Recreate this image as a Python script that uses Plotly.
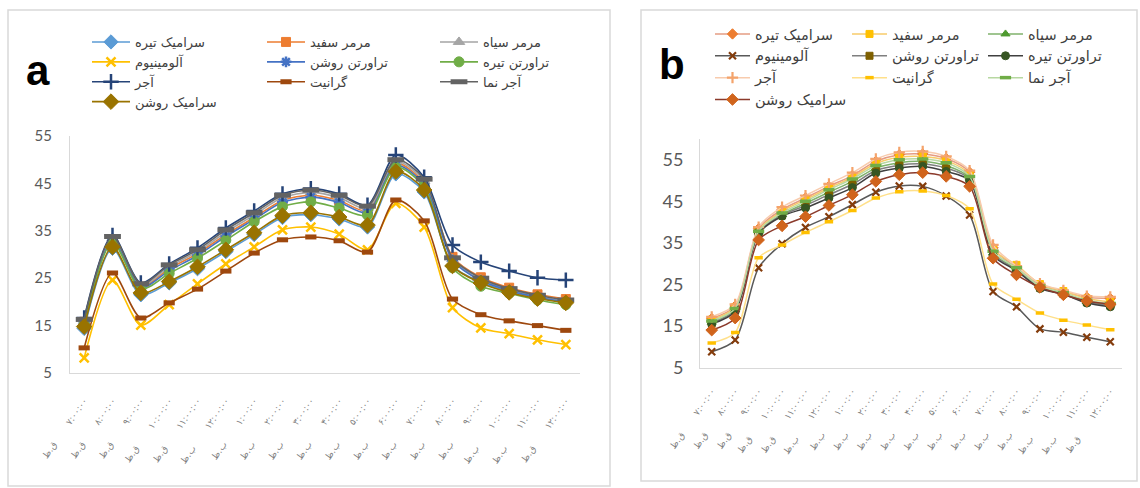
import plotly.graph_objects as go

W, H = 1140, 488

# ---- categories: hourly time stamps (Persian) ----
hour_text = ["۷:۰۰:۰۰", "۸:۰۰:۰۰", "۹:۰۰:۰۰", "۱۰:۰۰:۰۰", "۱۱:۰۰:۰۰", "۱۲:۰۰:۰۰",
             "۱:۰۰:۰۰", "۲:۰۰:۰۰", "۳:۰۰:۰۰", "۴:۰۰:۰۰", "۵:۰۰:۰۰", "۶:۰۰:۰۰",
             "۷:۰۰:۰۰", "۸:۰۰:۰۰", "۹:۰۰:۰۰", "۱۰:۰۰:۰۰", "۱۱:۰۰:۰۰", "۱۲:۰۰:۰۰"]
period_text = ["ق.ظ"] * 5 + ["ب.ظ"] * 12 + ["ق.ظ"]

series_names = ["سرامیک تیره", "مرمر سفید", "مرمر سیاه", "آلومینیوم", "تراورتن روشن",
                "تراورتن تیره", "آجر", "گرانیت", "آجر نما", "سرامیک روشن"]

# ---- panel a ----
a_ceramic_dark = [14.4, 31.3, 21.5, 24.0, 27.0, 30.6, 34.2, 37.8, 38.4, 37.5, 35.8, 47.0, 43.2, 27.6, 24.2, 22.2, 20.9, 20.0]
a_marble_white = [15.8, 33.2, 23.2, 27.0, 30.2, 34.2, 37.8, 41.4, 42.5, 41.4, 39.2, 49.2, 45.1, 29.5, 25.2, 23.0, 21.6, 20.6]
a_marble_black = [16.0, 33.5, 23.5, 27.4, 30.6, 34.7, 38.3, 42.0, 43.1, 42.0, 39.7, 49.6, 45.5, 29.0, 24.7, 22.6, 21.2, 20.2]
a_aluminium = [8.2, 24.6, 15.1, 19.4, 23.8, 28.0, 31.6, 35.2, 35.8, 34.3, 31.0, 40.8, 35.8, 18.8, 14.5, 13.3, 12.0, 11.0]
a_travertine_light = [15.5, 32.9, 23.0, 26.6, 29.8, 33.8, 37.4, 41.0, 42.1, 41.0, 38.8, 48.8, 44.7, 28.8, 24.5, 22.4, 21.0, 20.0]
a_travertine_dark = [15.3, 32.6, 22.7, 26.0, 29.2, 33.0, 36.9, 40.1, 41.1, 39.8, 38.3, 48.4, 44.3, 27.2, 23.3, 21.8, 20.4, 19.4]
a_brick = [16.6, 34.0, 24.0, 28.0, 31.4, 35.6, 39.2, 42.8, 43.9, 42.8, 40.4, 51.0, 46.3, 32.0, 28.4, 26.5, 25.1, 24.6]
a_granite = [10.3, 26.1, 16.6, 19.8, 22.7, 26.5, 30.3, 33.1, 33.7, 32.9, 30.5, 41.5, 37.1, 20.6, 17.3, 16.0, 15.0, 14.0]
a_facing_brick = [16.3, 33.8, 23.8, 27.8, 31.0, 35.2, 38.8, 42.5, 43.6, 42.5, 40.2, 50.0, 45.9, 29.3, 25.0, 22.8, 21.4, 20.4]
a_ceramic_light = [14.8, 31.6, 21.9, 24.3, 27.4, 31.0, 34.6, 38.2, 38.8, 37.9, 36.2, 47.5, 43.6, 27.6, 24.0, 22.0, 20.7, 19.8]

# ---- panel b ----
b_ceramic_dark = [16.8, 19.8, 38.4, 43.0, 45.8, 48.6, 51.2, 54.6, 56.2, 56.4, 55.3, 52.0, 33.8, 29.0, 24.9, 23.3, 21.9, 21.6]
b_marble_white = [16.5, 19.5, 38.0, 42.6, 45.4, 48.2, 50.8, 54.1, 55.6, 55.8, 54.8, 51.5, 33.4, 29.7, 25.1, 23.4, 21.6, 20.8]
b_marble_black = [15.9, 18.9, 37.6, 41.8, 44.5, 47.2, 49.8, 53.0, 54.3, 54.6, 53.6, 50.6, 32.6, 28.7, 24.4, 22.8, 20.9, 20.1]
b_aluminium = [8.8, 11.6, 29.0, 34.8, 38.7, 41.3, 44.2, 47.2, 48.7, 48.6, 46.3, 41.7, 23.3, 19.6, 14.3, 13.5, 12.3, 11.2]
b_travertine_light = [15.7, 18.7, 37.5, 41.6, 44.0, 46.6, 49.1, 52.4, 53.7, 54.0, 53.0, 50.3, 32.3, 28.5, 24.2, 22.7, 20.7, 19.9]
b_travertine_dark = [15.5, 18.5, 37.3, 41.4, 43.4, 45.8, 48.3, 51.8, 53.0, 53.4, 52.2, 50.0, 32.0, 28.3, 24.0, 22.6, 20.5, 19.6]
b_brick = [17.2, 20.2, 38.8, 43.6, 46.4, 49.2, 51.9, 55.2, 56.8, 57.0, 55.8, 52.4, 34.5, 29.4, 25.2, 23.6, 22.2, 22.0]
b_granite = [10.9, 13.4, 31.4, 34.5, 37.5, 40.1, 42.8, 45.8, 47.3, 47.5, 46.4, 43.2, 25.1, 21.4, 18.1, 16.4, 15.2, 14.1]
b_facing_brick = [16.2, 19.2, 37.8, 42.2, 45.0, 47.8, 50.4, 53.6, 55.0, 55.2, 54.3, 51.0, 33.0, 29.0, 24.6, 23.0, 21.2, 20.4]
b_ceramic_light = [14.0, 16.9, 35.7, 39.1, 41.3, 44.0, 46.6, 49.8, 51.4, 51.9, 51.0, 48.6, 31.3, 27.3, 24.3, 22.5, 21.0, 20.2]

a_series = [a_ceramic_dark, a_marble_white, a_marble_black, a_aluminium, a_travertine_light,
            a_travertine_dark, a_brick, a_granite, a_facing_brick, a_ceramic_light]
b_series = [b_ceramic_dark, b_marble_white, b_marble_black, b_aluminium, b_travertine_light,
            b_travertine_dark, b_brick, b_granite, b_facing_brick, b_ceramic_light]

# tick text: period on the left, time on the right (LRM keeps the digits left-to-right)
categories = [p + "\u200e" + "\u00a0" * 8 + h for p, h in zip(period_text, hour_text)]

# ---- styles ----
# (line colour, marker colour, symbol, size, stroke width for line-only symbols)
a_styles = [
    ("#5B9BD5", "#5B9BD5", "diamond", 11, 0),
    ("#ED7D31", "#ED7D31", "square", 9, 0),
    ("#A5A5A5", "#A5A5A5", "triangle-up", 10, 0),
    ("#FFC000", "#FFC000", "x-thin", 9, 2.5),
    ("#4472C4", "#4472C4", "asterisk", 9, 2.5),
    ("#70AD47", "#70AD47", "circle", 10, 0),
    ("#264478", "#264478", "cross-thin", 11, 2.5),
    ("#9E480E", "#9E480E", "line-ew", 8, 5),
    ("#636363", "#636363", "line-ew", 12, 5),
    ("#997300", "#997300", "diamond", 12, 0),
]
b_styles = [
    ("#E59C83", "#ED7D31", "diamond", 8, 0),
    ("#F7CB6A", "#FFC000", "square", 7, 0),
    ("#7FB26B", "#4E9A2F", "triangle-up", 8, 0),
    ("#595959", "#843C0C", "x-thin", 7, 2.2),
    ("#7F7F7F", "#7F6000", "square", 7, 0),
    ("#404040", "#375623", "circle", 8, 0),
    ("#F8CBAD", "#F4A36B", "cross-thin", 8, 2.2),
    ("#FFE08A", "#FFC000", "line-ew", 6, 3.5),
    ("#B7D8A1", "#70AD47", "line-ew", 8, 3.5),
    ("#8B3A2B", "#D0641C", "diamond", 9, 0),
]

a_legends = ["legend", "legend2", "legend3"]
b_legends = ["legend4", "legend5", "legend6"]

fig = go.Figure()


def add_panel(series, styles, legends, xa, ya, lw):
    for i, (name, vals, st) in enumerate(zip(series_names, series, styles)):
        lc, mc, sym, size, stroke = st
        if stroke:
            marker = dict(symbol=sym, size=size, color=mc, line=dict(color=mc, width=stroke))
        else:
            marker = dict(symbol=sym, size=size, color=mc, line=dict(color=mc, width=1))
        fig.add_trace(go.Scatter(
            x=categories, y=vals, name=name, mode="lines+markers",
            line=dict(color=lc, width=lw, shape="spline", smoothing=0.8),
            marker=marker, xaxis=xa, yaxis=ya, legend=legends[i % 3],
            showlegend=True,
        ))


add_panel(a_series, a_styles, a_legends, "x", "y", 1.6)
add_panel(b_series, b_styles, b_legends, "x2", "y2", 1.5)


def px_x(p):
    return p / W


def px_y(p):
    return 1 - p / H


axis_line = dict(showline=True, linecolor="#D9D9D9", linewidth=1, showgrid=False,
                 zeroline=False, ticks="", automargin=False)

xtick_font = dict(family="DejaVu Sans", size=9, color="#7F7F7F")

fig.update_layout(
    width=W, height=H,
    margin=dict(l=0, r=0, t=0, b=0),
    paper_bgcolor="white", plot_bgcolor="white",
    xaxis=dict(domain=[px_x(70), px_x(580)], anchor="y", type="category",
               range=[-0.5, 17.5], tickangle=-55, tickfont=xtick_font,
               ticklabelstandoff=18, **axis_line),
    yaxis=dict(domain=[px_y(373), px_y(136)], anchor="x", range=[5, 55],
               tick0=5, dtick=10, tickfont=dict(family="Lato", size=15, color="#595959"),
               ticklabelstandoff=14, **axis_line),
    xaxis2=dict(domain=[px_x(700), px_x(1122)], anchor="y2", type="category",
                range=[-0.5, 17.5], tickangle=-55, tickfont=xtick_font,
                ticklabelstandoff=14, **axis_line),
    yaxis2=dict(domain=[px_y(367.5), px_y(139)], anchor="x2", range=[5, 60],
                tick0=5, dtick=10, tickfont=dict(family="Lato", size=18, color="#595959"),
                ticklabelstandoff=12, **axis_line),
)

legend_common = dict(orientation="v", xanchor="left", yanchor="top",
                     bgcolor="rgba(0,0,0,0)", borderwidth=0, tracegroupgap=0)
a_leg_font = dict(family="DejaVu Sans", size=13, color="#404040")
b_leg_font = dict(family="DejaVu Sans", size=14.5, color="#404040")
for name, xp in zip(a_legends, [87, 262, 435]):
    fig.update_layout({name: dict(x=px_x(xp), y=px_y(27), itemwidth=38, font=a_leg_font, **legend_common)})
for name, xp in zip(b_legends, [710, 847, 983]):
    fig.update_layout({name: dict(x=px_x(xp), y=px_y(18), itemwidth=35, font=b_leg_font, **legend_common)})

# panel frames
fig.add_shape(type="rect", xref="paper", yref="paper",
              x0=px_x(8), x1=px_x(610), y0=px_y(486), y1=px_y(10),
              line=dict(color="#D9D9D9", width=1.5), fillcolor="rgba(0,0,0,0)", layer="below")
fig.add_shape(type="rect", xref="paper", yref="paper",
              x0=px_x(641), x1=px_x(1137), y0=px_y(481), y1=px_y(10),
              line=dict(color="#D9D9D9", width=1.5), fillcolor="rgba(0,0,0,0)", layer="below")

# panel letters
label_font = dict(family="Liberation Sans Narrow, Liberation Sans, Arial", size=42, color="black")
fig.add_annotation(text="<b>a</b>", x=px_x(38), y=px_y(70), xref="paper", yref="paper",
                   showarrow=False, xanchor="center", yanchor="middle", font=label_font)
fig.add_annotation(text="<b>b</b>", x=px_x(672), y=px_y(64), xref="paper", yref="paper",
                   showarrow=False, xanchor="center", yanchor="middle", font=label_font)

fig.write_html("out.html")
